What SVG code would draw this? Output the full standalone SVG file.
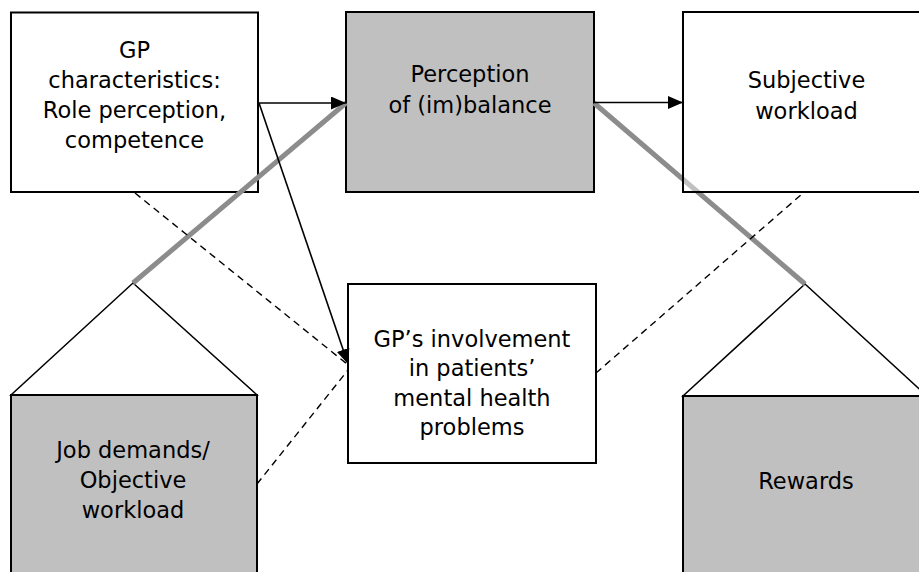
<svg xmlns="http://www.w3.org/2000/svg" width="919" height="572" viewBox="0 0 919 572">
<style>
text{font-family:"DejaVu Sans","Liberation Sans",sans-serif;font-size:22.5px;fill:#000;text-anchor:middle}
.box{stroke:#000;stroke-width:2}
.white{fill:#fff}
.grey{fill:#c0c0c0}
.tri{fill:#fff;stroke:#000;stroke-width:1.5}
.arrow{stroke:#000;stroke-width:1.6;fill:none;marker-end:url(#ah)}
.dash{stroke:#000;stroke-width:1.4;fill:none;stroke-dasharray:7 5}
.thick{stroke:#8c8c8c;stroke-width:5;fill:none}
</style>
<defs>
<marker id="ah" markerWidth="15" markerHeight="13" refX="15" refY="6.5" orient="auto" markerUnits="userSpaceOnUse">
<path d="M0,0 L15,6.5 L0,13 Z" fill="#000"/>
</marker>
</defs>
<rect width="919" height="572" fill="#fff"/>

<g id="gp-characteristics">
<rect class="box white" x="11" y="12.5" width="247" height="179.5"/>
<text x="134.5" y="57.5">GP</text>
<text x="134.5" y="88">characteristics:</text>
<text x="134.5" y="118">Role perception,</text>
<text x="134.5" y="148">competence</text>
</g>

<g id="perception">
<rect class="box grey" x="346" y="12" width="248" height="180"/>
<text x="470" y="82">Perception</text>
<text x="470" y="112.5">of (im)balance</text>
</g>

<g id="job-demands">
<polygon class="tri" points="133,283 11,395 257,395"/>
<rect class="box grey" x="11" y="395" width="246" height="190"/>
<text x="133" y="458">Job demands/</text>
<text x="133" y="488">Objective</text>
<text x="133" y="518">workload</text>
</g>

<g id="rewards">
<polygon class="tri" points="805,284 683,396 927,396"/>
<rect class="box grey" x="683" y="396" width="246" height="190"/>
<text x="806" y="489">Rewards</text>
</g>

<g id="gp-involvement">
<rect class="box white" x="348" y="284" width="248" height="179"/>
<text x="472" y="347">GP’s involvement</text>
<text x="472" y="376">in patients’</text>
<text x="472" y="405.5">mental health</text>
<text x="472" y="434.5">problems</text>
</g>

<g id="connectors">
<line class="thick" x1="133" y1="283" x2="346" y2="103"/>
<line class="thick" x1="594" y1="103" x2="805" y2="284"/>
<line class="dash" x1="135" y1="193" x2="347" y2="364"/>
<line class="dash" x1="257" y1="484" x2="348" y2="370"/>
<line class="dash" x1="596" y1="373" x2="802" y2="194"/>
<line class="arrow" x1="258" y1="103" x2="346" y2="103"/>
<line class="arrow" x1="594" y1="102.5" x2="683" y2="102.5"/>
<line class="arrow" x1="259" y1="103" x2="348" y2="364"/>
</g>

<g id="subjective-workload">
<rect class="box" fill="#fff" fill-opacity="0.45" x="683" y="12" width="246" height="180"/>
<text x="806.5" y="87.5">Subjective</text>
<text x="806.5" y="118.5">workload</text>
</g>
</svg>
